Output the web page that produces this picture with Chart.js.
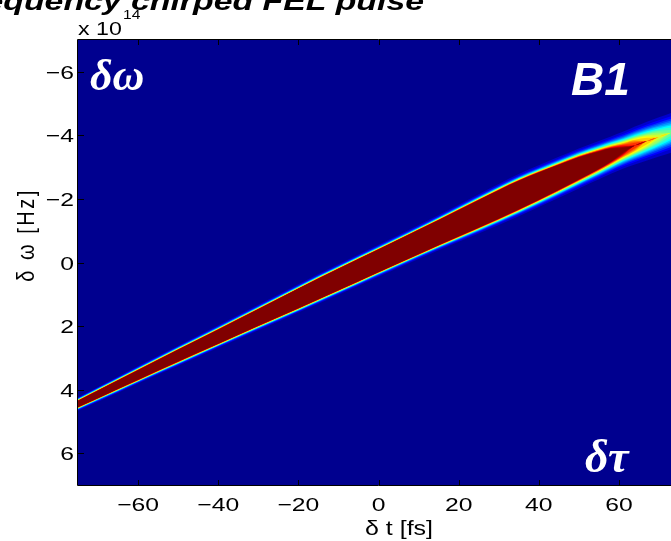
<!DOCTYPE html>
<html>
<head>
<meta charset="utf-8">
<script src="https://cdn.jsdelivr.net/npm/chart.js@4.4.1/dist/chart.umd.min.js"></script>
<style>
  html, body { margin: 0; padding: 0; background: #fff; overflow: hidden; }
  #wrap { width: 671px; height: 541px; overflow: hidden; }
  canvas { display: block; }
</style>
</head>
<body>
<div id="wrap"><canvas id="wigner" width="700" height="541" style="width:700px;height:541px"></canvas></div>
<script>
// delay samples along the pulse [fs]
const delayFs = [-75, -65, -55, -45, -35, -25, -15, -5, 5, 15, 25, 35, 45, 50, 55, 58, 61, 64, 67, 70, 73, 75];
// centre of the chirped band, delta omega [x1e14 Hz]
const bandCentre = [4.45, 3.84, 3.23, 2.63, 2.03, 1.43, 0.83, 0.24, -0.35, -0.94, -1.53, -2.12, -2.68, -2.96, -3.22, -3.38, -3.53, -3.68, -3.82, -3.95, -4.08, -4.16];
// peak intensity relative to the colour limit (saturates above 1)
const bandPeak = [2.1, 2.8, 3.8, 5, 7, 10, 13.5, 16.5, 18.5, 19, 17, 12, 5.5, 3.6, 2.1, 1.5, 1.05, 0.85, 0.7, 0.57, 0.47, 0.42];
// rms spread across the band [x1e14 Hz]
const bandSpread = [0.077, 0.09, 0.10, 0.11, 0.12, 0.13, 0.14, 0.145, 0.15, 0.16, 0.18, 0.20, 0.21, 0.215, 0.22, 0.225, 0.235, 0.25, 0.265, 0.28, 0.295, 0.305];
// contour levels of the colour map
const levels = [0.05, 0.1, 0.15, 0.2, 0.25, 0.3, 0.35, 0.4, 0.45, 0.5, 0.55, 0.6, 0.65, 0.7, 0.75, 0.8, 0.85, 0.9, 0.95, 1.0];
const xTicks = [-60, -40, -20, 0, 20, 40, 60];
const yTicks = [-6, -4, -2, 0, 2, 4, 6];

const SX = 1.3; // horizontal stretch of the exported figure text

function jet(v) {
  const c = x => Math.round(255 * Math.max(0, Math.min(1, x)));
  const r = c(1.5 - Math.abs(4 * v - 3));
  const g = c(1.5 - Math.abs(4 * v - 2));
  const b = c(1.5 - Math.abs(4 * v - 1));
  return `rgb(${r},${g},${b})`;
}

// one pair of edge lines per level, the lower one filled up to the upper one
const datasets = [];
levels.forEach((lv, k) => {
  const upper = [], lower = [];
  delayFs.forEach((t, i) => {
    const a = bandPeak[i];
    const hw = a > lv ? bandSpread[i] * Math.sqrt(2 * Math.log(a / lv)) : 0;
    upper.push({ x: t, y: bandCentre[i] - hw });
    lower.push({ x: t, y: bandCentre[i] + hw });
  });
  const next = k < levels.length - 1 ? levels[k + 1] : 1;
  const col = k === levels.length - 1 ? jet(1) : jet((lv + next) / 2);
  const common = {
    order: levels.length - k,
    borderWidth: 0,
    borderColor: 'transparent',
    pointRadius: 0,
    cubicInterpolationMode: 'monotone'
  };
  datasets.push({ ...common, data: upper, fill: false });
  datasets.push({ ...common, data: lower, fill: '-1', backgroundColor: col });
});

function stretchText(ctx, str, x, y, font, align, opts = {}) {
  ctx.save();
  ctx.translate(x, y);
  ctx.scale(opts.sx || SX, 1);
  if (opts.rot) ctx.rotate(opts.rot);
  ctx.font = font;
  ctx.textAlign = align;
  ctx.textBaseline = 'alphabetic';
  if (opts.spacing) ctx.letterSpacing = opts.spacing;
  ctx.fillText(str, 0, 0);
  ctx.restore();
}

const minus = v => (v < 0 ? '\u2212' + Math.abs(v) : String(v));
const sans = '"Liberation Sans", Arial, sans-serif';

const frame = {
  id: 'frame',
  beforeDraw(chart) {
    const { ctx, chartArea: a } = chart;
    ctx.save();
    ctx.fillStyle = '#ffffff';
    ctx.fillRect(0, 0, chart.width, chart.height);
    ctx.fillStyle = '#00008f';
    ctx.fillRect(a.left, a.top, a.right - a.left, a.bottom - a.top);
    ctx.restore();
  },
  afterDraw(chart) {
    const { ctx, chartArea: a, scales } = chart;
    const xs = scales.x, ys = scales.y;
    ctx.save();
    // axes box
    ctx.strokeStyle = '#000';
    ctx.lineWidth = 1;
    ctx.beginPath();
    ctx.moveTo(a.left - 0.5, a.top - 0.5);
    ctx.lineTo(a.left - 0.5, a.bottom + 0.5);
    ctx.moveTo(a.left - 0.5, a.top - 0.5);
    ctx.lineTo(a.right, a.top - 0.5);
    ctx.moveTo(a.left - 0.5, a.bottom + 0.5);
    ctx.lineTo(a.right, a.bottom + 0.5);
    // inward ticks
    xTicks.forEach(v => {
      const px = Math.round(xs.getPixelForValue(v)) + 0.5;
      ctx.moveTo(px, a.bottom); ctx.lineTo(px, a.bottom - 5);
      ctx.moveTo(px, a.top); ctx.lineTo(px, a.top + 5);
    });
    yTicks.forEach(v => {
      const py = Math.round(ys.getPixelForValue(v)) + 0.5;
      ctx.moveTo(a.left, py); ctx.lineTo(a.left + 6, py);
    });
    ctx.stroke();

    ctx.fillStyle = '#000';
    const tickFont = '19px ' + sans;
    xTicks.forEach(v => {
      stretchText(ctx, minus(v), xs.getPixelForValue(v), 511, tickFont, 'center');
    });
    yTicks.forEach(v => {
      stretchText(ctx, minus(v), 74, ys.getPixelForValue(v) + 7, tickFont, 'right');
    });
    stretchText(ctx, '\u03b4 t [fs]', 399, 535, '20px ' + sans, 'center', { sx: 1.25 });
    stretchText(ctx, '\u03b4 \u03c9 [Hz]', 34, 235, '20px ' + sans, 'center',
      { sx: 1.2, rot: -Math.PI / 2, spacing: '2.5px' });
    stretchText(ctx, 'x 10', 78, 35, '19px ' + sans, 'left', { sx: 1.22 });
    stretchText(ctx, '14', 123, 19, '13px ' + sans, 'left', { sx: 1.2 });
    stretchText(ctx, 'Frequency chirped FEL pulse', 424, 10, 'bold italic 26px ' + sans, 'right', { sx: 1.3 });

    // panel annotations
    ctx.fillStyle = '#fff';
    ctx.textAlign = 'left';
    ctx.textBaseline = 'alphabetic';
    ctx.font = 'bold italic 44px "Liberation Serif", serif';
    ctx.fillText('\u03b4\u03c9', 90, 90);
    ctx.font = 'bold italic 46px "Liberation Serif", serif';
    ctx.fillText('\u03b4\u03c4', 585, 472);
    ctx.font = 'bold italic 46px ' + sans;
    ctx.fillText('B1', 571, 95);
    ctx.restore();
  }
};

new Chart(document.getElementById('wigner'), {
  type: 'line',
  data: { datasets },
  options: {
    responsive: false,
    devicePixelRatio: 1,
    animation: false,
    layout: { padding: { left: 78, top: 40, right: 21, bottom: 56 } },
    scales: {
      x: { type: 'linear', min: -75, max: 75, display: false },
      y: { type: 'linear', min: -7, max: 7, reverse: true, display: false }
    },
    plugins: {
      legend: { display: false },
      tooltip: { enabled: false }
    }
  },
  plugins: [frame]
});
</script>
</body>
</html>
